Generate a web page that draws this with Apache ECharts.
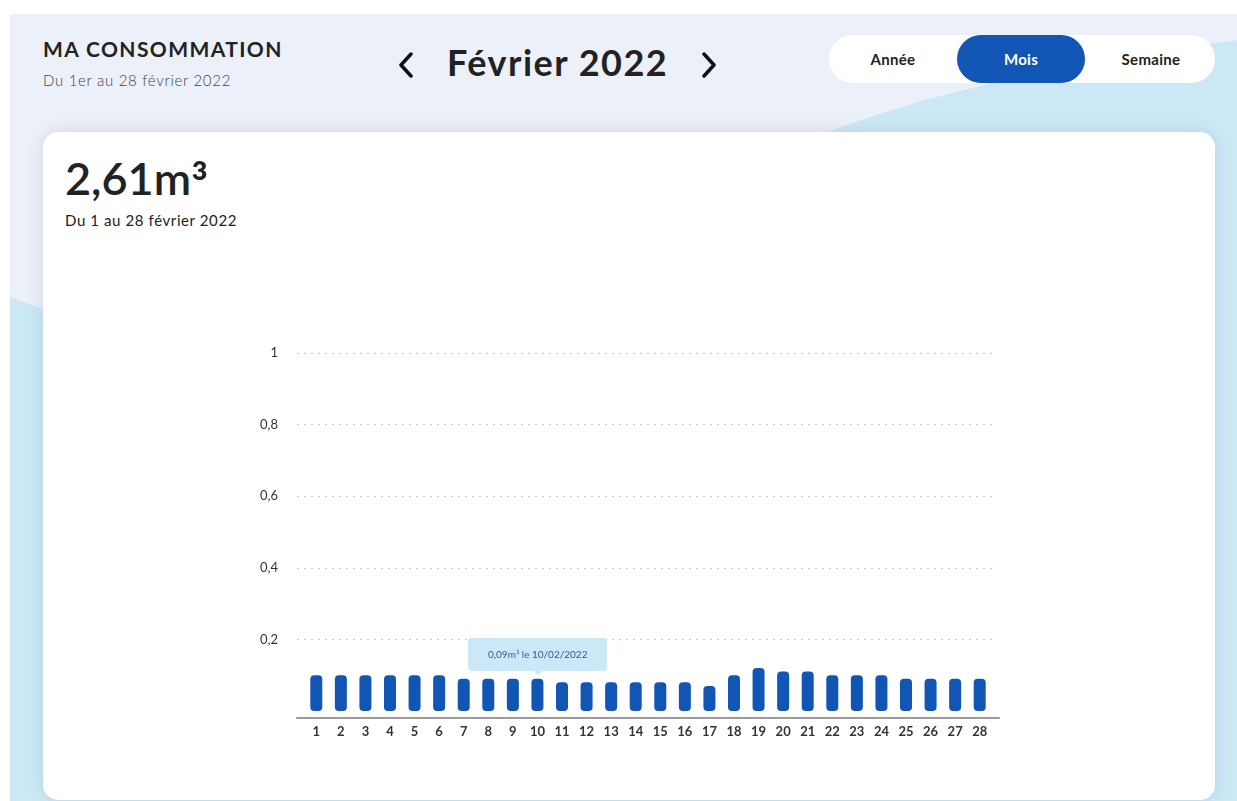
<!DOCTYPE html>
<html lang="fr">
<head>
<meta charset="utf-8">
<title>Ma consommation</title>
<script src="https://cdn.jsdelivr.net/npm/echarts/dist/echarts.min.js"></script>
<style>
  html, body { margin: 0; padding: 0; background: #fff; }
  body { width: 1237px; height: 801px; position: relative; overflow: hidden; font-family: Lato, "Open Sans", sans-serif; color: #222; }
  .panel { position: absolute; left: 10px; top: 14px; width: 1227px; height: 787px; background: #cde8f5; overflow: hidden; }
  .panel svg { position: absolute; left: 0; top: 0; }
  .title { position: absolute; left: 43px; top: 36px; font-size: 21px; font-weight: 700; letter-spacing: 1.4px; }
  .subtitle { position: absolute; left: 43px; top: 71px; font-size: 15px; font-weight: 300; color: #444; letter-spacing: 0.7px; }
  .month { position: absolute; left: 447px; top: 40px; font-size: 36px; font-weight: 700; letter-spacing: 1.5px; }
  .chev { position: absolute; top: 52px; }
  .pill { position: absolute; left: 829px; top: 35px; width: 386px; height: 48px; background: #fff; border-radius: 24px; }
  .pill span { position: absolute; top: 0; height: 48px; line-height: 48px; width: 128px; text-align: center; font-size: 15px; font-weight: 700; letter-spacing: 0.3px; }
  .pill .on { background: #1155b5; color: #fff; border-radius: 24px; }
  .card { position: absolute; left: 43px; top: 132px; width: 1172px; height: 668px; background: #fff; border-radius: 15px; box-shadow: 0 0 18px rgba(20, 60, 110, 0.12); }
  .total { position: absolute; left: 65px; top: 151px; font-size: 45px; font-weight: 600; line-height: 54px; }
  .total .sup { font-size: 52px; line-height: 0; vertical-align: -9px; }
  .period { position: absolute; left: 65px; top: 211px; font-size: 15px; letter-spacing: 0.6px; }
  #chart { position: absolute; left: 0; top: 0; width: 1237px; height: 801px; }
</style>
</head>
<body>
<div class="panel">
  <svg width="1227" height="787">
    <path d="M0 283 C 110 326, 390 406, 640 216 C 750 136, 870 75, 1227 26 L1227 0 L0 0 Z" fill="#ecf0f8"/>
  </svg>
</div>
<div class="title">MA CONSOMMATION</div>
<div class="subtitle">Du 1er au 28 février 2022</div>
<svg class="chev" style="left:397px" width="18" height="26"><polyline points="14,2 4,13 14,24" fill="none" stroke="#111" stroke-width="3.5" stroke-linecap="round" stroke-linejoin="round"/></svg>
<div class="month">Février 2022</div>
<svg class="chev" style="left:700px" width="18" height="26"><polyline points="4,2 14,13 4,24" fill="none" stroke="#111" stroke-width="3.5" stroke-linecap="round" stroke-linejoin="round"/></svg>
<div class="pill">
  <span style="left:0">Année</span>
  <span class="on" style="left:128px">Mois</span>
  <span style="left:258px">Semaine</span>
</div>
<div class="card"></div>
<div class="total" id="total"></div>
<div class="period">Du 1 au 28 février 2022</div>
<div id="chart"></div>
<script>
// jours de février 2022
var days = ['1', '2', '3', '4', '5', '6', '7', '8', '9', '10', '11', '12', '13', '14',
  '15', '16', '17', '18', '19', '20', '21', '22', '23', '24', '25', '26', '27', '28'];
// consommation journalière en m3
var values = [0.10, 0.10, 0.10, 0.10, 0.10, 0.10, 0.09, 0.09, 0.09, 0.09, 0.08, 0.08, 0.08, 0.08,
  0.08, 0.08, 0.07, 0.10, 0.12, 0.11, 0.11, 0.10, 0.10, 0.10, 0.09, 0.09, 0.09, 0.09];
var yTicks = [0, 0.2, 0.4, 0.6, 0.8, 1];
var selectedDay = 9; // 10/02/2022

var fr = function (v) { return String(v).replace('.', ','); };
var sum = values.reduce(function (a, b) { return a + b; }, 0);
document.getElementById('total').innerHTML = sum.toFixed(2).replace('.', ',') + 'm<span class="sup">³</span>';

var myChart = echarts.init(document.getElementById('chart'));
var yBase = { type: 'value', min: yTicks[0], max: yTicks[yTicks.length - 1], interval: yTicks[1] - yTicks[0] };

var option = {
  animation: false,
  grid: [
    { left: 297, right: 242, top: 353, bottom: 90 },
    { left: 304, right: 245, top: 353, bottom: 90 },
    { left: 297, right: 238, top: 353, bottom: 90 }
  ],
  xAxis: [
    { gridIndex: 0, type: 'category', data: days, show: false },
    {
      gridIndex: 1, type: 'category', data: days,
      axisLine: { show: false }, axisTick: { show: false },
      axisLabel: { margin: 14, color: '#333', fontSize: 13, fontWeight: 700, fontFamily: 'Lato', interval: 0 }
    },
    {
      gridIndex: 2, type: 'category', data: days, offset: 7,
      axisLine: { onZero: false, lineStyle: { color: '#999', width: 2 } },
      axisTick: { show: false }, axisLabel: { show: false }
    }
  ],
  yAxis: [
    Object.assign({}, yBase, {
      gridIndex: 0,
      axisLine: { show: false }, axisTick: { show: false },
      axisLabel: {
        showMinLabel: false, margin: 19, color: '#333', fontSize: 13, fontFamily: 'Lato',
        formatter: fr
      },
      splitLine: { showMinLine: false, lineStyle: { color: '#c8c8c8', type: [2, 5], width: 1 } }
    }),
    Object.assign({}, yBase, { gridIndex: 1, show: false, splitLine: { show: false } }),
    Object.assign({}, yBase, { gridIndex: 2, show: false, splitLine: { show: false } })
  ],
  tooltip: {
    trigger: 'item',
    triggerOn: 'none',
    alwaysShowContent: true,
    position: 'top',
    transitionDuration: 0,
    backgroundColor: '#cce8f6',
    borderWidth: 0,
    padding: [9, 20],
    extraCssText: 'box-shadow:none;border-radius:4px;',
    textStyle: { color: '#3559a0', fontSize: 10, fontFamily: 'Lato' },
    formatter: function (p) {
      return fr(p.value.toFixed(2)) + 'm³ le ' + (p.name.length < 2 ? '0' : '') + p.name + '/02/2022';
    }
  },
  series: [
    {
      type: 'bar',
      xAxisIndex: 1,
      yAxisIndex: 1,
      data: values,
      barWidth: 12,
      itemStyle: { color: '#1155b5', borderRadius: 4 }
    }
  ]
};

option && myChart.setOption(option);
myChart.dispatchAction({ type: 'showTip', seriesIndex: 0, dataIndex: selectedDay });
</script>
</body>
</html>
